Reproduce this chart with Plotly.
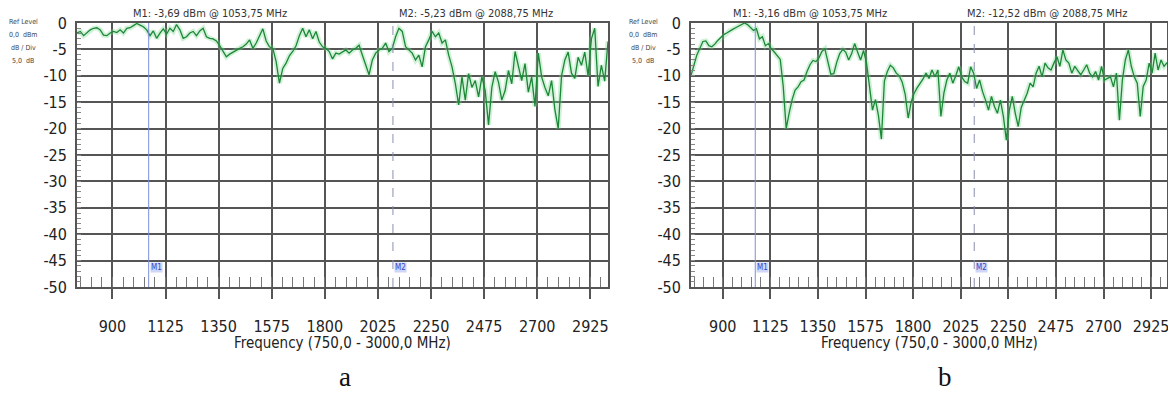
import numpy as np
import plotly.graph_objects as go

# ---------------- data ----------------
START_MHZ, STOP_MHZ = 750.0, 3000.0
freq_ticks = [900, 1125, 1350, 1575, 1800, 2025, 2250, 2475, 2700, 2925]
level_ticks = [0, -5, -10, -15, -20, -25, -30, -35, -40, -45, -50]
level_tick_text = ["0", "-5", "-10", "-15", "-20", "-25", "-30", "-35", "-40", "-45", "-50"]
marker_names = ["M1", "M2"]
marker_freqs = [1053.75, 2088.75]
marker_titles_a = ["M1: -3,69 dBm @ 1053,75 MHz", "M2: -5,23 dBm @ 2088,75 MHz"]
marker_titles_b = ["M1: -3,16 dBm @ 1053,75 MHz", "M2: -12,52 dBm @ 2088,75 MHz"]
ref_info = ["Ref Level", "0,0  dBm", "dB / Div", "5,0  dB"]
x_title = "Frequency (750,0 - 3000,0 MHz)"
panel_labels = ["a", "b"]

level_a = [
    -1.9, -1.6, -2.4, -1.9, -1.3, -1.0, -0.9, -1.3, -2.3, -2.4,
    -1.9, -1.6, -1.8, -1.3, -1.9, -1.0, -0.9, -0.5, -0.1, -0.4,
    -0.7, -1.3, -2.4, -1.5, -2.9, -1.9, -1.1, -2.1, -1.0, -1.6,
    -0.3, -1.3, -2.9, -2.6, -1.9, -1.6, -2.4, -1.5, -1.0, -2.6,
    -2.9, -3.0, -3.4, -4.3, -5.5, -6.4, -5.9, -5.5, -5.1, -4.8,
    -4.5, -4.0, -3.2, -4.8, -3.8, -2.4, -1.1, -3.4, -4.5, -4.8,
    -7.3, -11.4, -8.6, -7.6, -6.2, -5.4, -4.3, -2.4, -1.0, -2.6,
    -1.3, -3.0, -1.6, -3.6, -4.5, -4.8, -5.4, -6.8, -5.7, -5.9,
    -5.5, -5.1, -5.7, -5.1, -4.8, -4.2, -6.1, -8.0, -9.8, -7.0,
    -5.7, -5.1, -4.8, -3.8, -5.4, -4.8, -2.6, -1.0, -1.6, -4.5,
    -5.1, -5.7, -7.0, -6.1, -8.3, -4.5, -3.2, -1.6, -2.6, -1.9,
    -3.8, -3.2, -6.1, -8.3, -11.5, -15.5, -10.2, -14.6, -9.6, -12.2,
    -10.9, -14.0, -10.2, -12.8, -19.3, -12.2, -9.2, -11.2, -14.6, -12.8,
    -9.0, -11.5, -5.4, -8.3, -10.9, -7.7, -13.1, -10.2, -15.8, -5.7,
    -10.2, -12.2, -13.8, -10.9, -16.4, -20.0, -10.0, -7.0, -5.5, -9.5,
    -10.5, -6.5, -8.0, -5.5, -10.0, -3.0, -1.0, -12.0, -8.0, -11.0,
    -3.5,
]

level_b = [
    -9.9, -7.8, -6.0, -4.8, -3.5, -3.4, -4.3, -4.5, -4.0, -3.3,
    -2.7, -2.2, -1.9, -1.5, -1.2, -0.9, -0.6, -0.2, 0.0, -0.3,
    -0.8, -1.4, -1.1, -3.0, -2.6, -4.3, -3.9, -4.9, -5.5, -6.3,
    -6.9, -12.0, -20.0, -17.0, -14.5, -12.7, -12.1, -11.1, -10.8, -9.2,
    -7.9, -7.1, -7.3, -6.6, -5.4, -4.9, -7.1, -9.7, -9.6, -7.4,
    -5.8, -5.0, -5.5, -7.0, -5.8, -3.9, -5.5, -7.0, -5.2, -7.6,
    -12.0, -16.5, -14.5, -17.5, -22.0, -11.0, -9.2, -8.0, -8.5, -9.5,
    -10.0, -11.2, -13.5, -18.0, -15.0, -13.3, -12.3, -11.5, -10.6, -9.5,
    -10.5, -8.9, -10.2, -8.9, -17.7, -13.3, -10.8, -9.5, -11.4, -10.0,
    -8.3, -10.2, -11.1, -11.4, -8.3, -9.5, -12.4, -10.8, -13.0, -14.6,
    -16.5, -13.9, -15.8, -17.1, -14.6, -17.7, -22.2, -16.5, -13.9, -17.1,
    -19.6, -16.0, -14.6, -13.3, -11.4, -12.1, -9.5, -8.2, -10.2, -7.6,
    -8.5, -8.9, -7.6, -6.4, -8.2, -5.1, -7.0, -7.6, -9.5, -8.2,
    -9.0, -9.8, -8.9, -7.9, -9.5, -10.2, -9.2, -10.8, -8.2, -10.8,
    -10.5, -10.2, -12.1, -9.5, -18.4, -10.8, -7.0, -5.1, -8.2, -10.2,
    -11.4, -17.7, -12.0, -10.8, -7.6, -9.5, -5.7, -8.9, -7.0, -8.2,
    -7.5,
]

# ---------------- style ----------------
W, H = 1168, 394
FONT = "Liberation Sans Narrow, DejaVu Sans Condensed, Arial Narrow, sans-serif"
GRID = "#555555"
TRACE = "rgb(28,135,55)"
HALO = "rgba(120,215,140,0.35)"


def px(x):
    return x / W


def py(y):
    return 1 - y / H


freq_a = np.linspace(START_MHZ, STOP_MHZ, len(level_a))
freq_b = np.linspace(START_MHZ, STOP_MHZ, len(level_b))
minor_freqs = [f for f in np.arange(765, STOP_MHZ, 45.0)]
minor_levels = [v for v in range(-49, 0)]

fig = go.Figure()
for f, lv, xa, ya in [(freq_a, level_a, "x", "y"), (freq_b, level_b, "x2", "y2")]:
    fig.add_trace(go.Scatter(x=f, y=lv, xaxis=xa, yaxis=ya, mode="lines",
                             line=dict(color=HALO, width=5), hoverinfo="skip", showlegend=False))
    fig.add_trace(go.Scatter(x=f, y=lv, xaxis=xa, yaxis=ya, mode="lines",
                             line=dict(color=TRACE, width=1.3), showlegend=False))


def xcfg(domain, anchor):
    return dict(domain=domain, anchor=anchor, range=[START_MHZ, STOP_MHZ],
                tickmode="array", tickvals=freq_ticks, ticktext=[str(v) for v in freq_ticks],
                showgrid=True, gridcolor=GRID, gridwidth=1.8,
                showline=True, linecolor=GRID, linewidth=1.8, mirror=True,
                ticks="outside", ticklen=10, tickcolor=GRID, tickwidth=1.8,
                ticklabelstandoff=14, ticklabeloverflow="allow",
                tickfont=dict(family=FONT, size=16, color="#222"), zeroline=False,
                minor=dict(tickmode="array", tickvals=minor_freqs, ticks="inside",
                           ticklen=10, tickcolor="#777", tickwidth=1, showgrid=False))


def ycfg(domain, anchor):
    return dict(domain=domain, anchor=anchor, range=[-50, 0],
                tickmode="array", tickvals=level_ticks, ticktext=level_tick_text,
                showgrid=True, gridcolor=GRID, gridwidth=1.8,
                showline=True, linecolor=GRID, linewidth=1.8, mirror=True,
                ticks="", ticklabelstandoff=5,
                tickfont=dict(family=FONT, size=16, color="#222"), zeroline=False,
                minor=dict(tickmode="array", tickvals=minor_levels, ticks="inside",
                           ticklen=4, tickcolor="#888", tickwidth=1, showgrid=False))


ydom = [py(287), py(23)]
fig.update_layout(
    autosize=True, margin=dict(l=0, r=0, t=0, b=0, autoexpand=False),
    paper_bgcolor="white", plot_bgcolor="white",
    xaxis=xcfg([px(77), px(608)], "y"),
    yaxis=ycfg(ydom, "x"),
    xaxis2=xcfg([px(691), px(1167)], "y2"),
    yaxis2=ycfg(ydom, "x2"),
)

shapes = []
annotations = []
panels = [("x", "y", marker_titles_a, [210, 476], 23, 342, panel_labels[0], 345),
          ("x2", "y2", marker_titles_b, [810, 1047], 643, 929, panel_labels[1], 945)]
for xa, ya, titles, tcx, refx, xtc, lab, labx in panels:
    for k, (name, mf) in enumerate(zip(marker_names, marker_freqs)):
        shapes.append(dict(type="line", xref=xa, yref=ya, x0=mf, x1=mf, y0=-50, y1=0,
                           line=dict(color="#7d8fd8" if k == 0 else "#8a8fae",
                                     width=1, dash="solid" if k == 0 else "dash")))
        annotations.append(dict(xref=xa, yref=ya, x=mf, y=-46.3, text=name, showarrow=False,
                                xanchor="left", yanchor="middle", xshift=1,
                                font=dict(family=FONT, size=8, color="#3346c8"),
                                bgcolor="rgba(170,180,240,0.55)", borderpad=0))
        annotations.append(dict(xref="paper", yref="paper", x=px(tcx[k]), y=py(14),
                                text=titles[k], showarrow=False, xanchor="center", yanchor="middle",
                                font=dict(family=FONT, size=11, color="#333")))
    for j, line in enumerate(ref_info):
        annotations.append(dict(xref="paper", yref="paper", x=px(refx), y=py(22 + 13 * j),
                                text=line, showarrow=False, xanchor="center", yanchor="middle",
                                font=dict(family=FONT, size=7, color="#444")))
    annotations.append(dict(xref="paper", yref="paper", x=px(xtc), y=py(343), text=x_title,
                            showarrow=False, xanchor="center", yanchor="middle",
                            font=dict(family=FONT, size=15, color="#222")))
    annotations.append(dict(xref="paper", yref="paper", x=px(labx), y=py(377), text=lab,
                            showarrow=False, xanchor="center", yanchor="middle",
                            font=dict(family="Liberation Serif, DejaVu Serif, serif", size=27,
                                      color="#111")))

fig.update_layout(shapes=shapes, annotations=annotations)
fig.write_html("out.html", default_width="100%", default_height="100%")
